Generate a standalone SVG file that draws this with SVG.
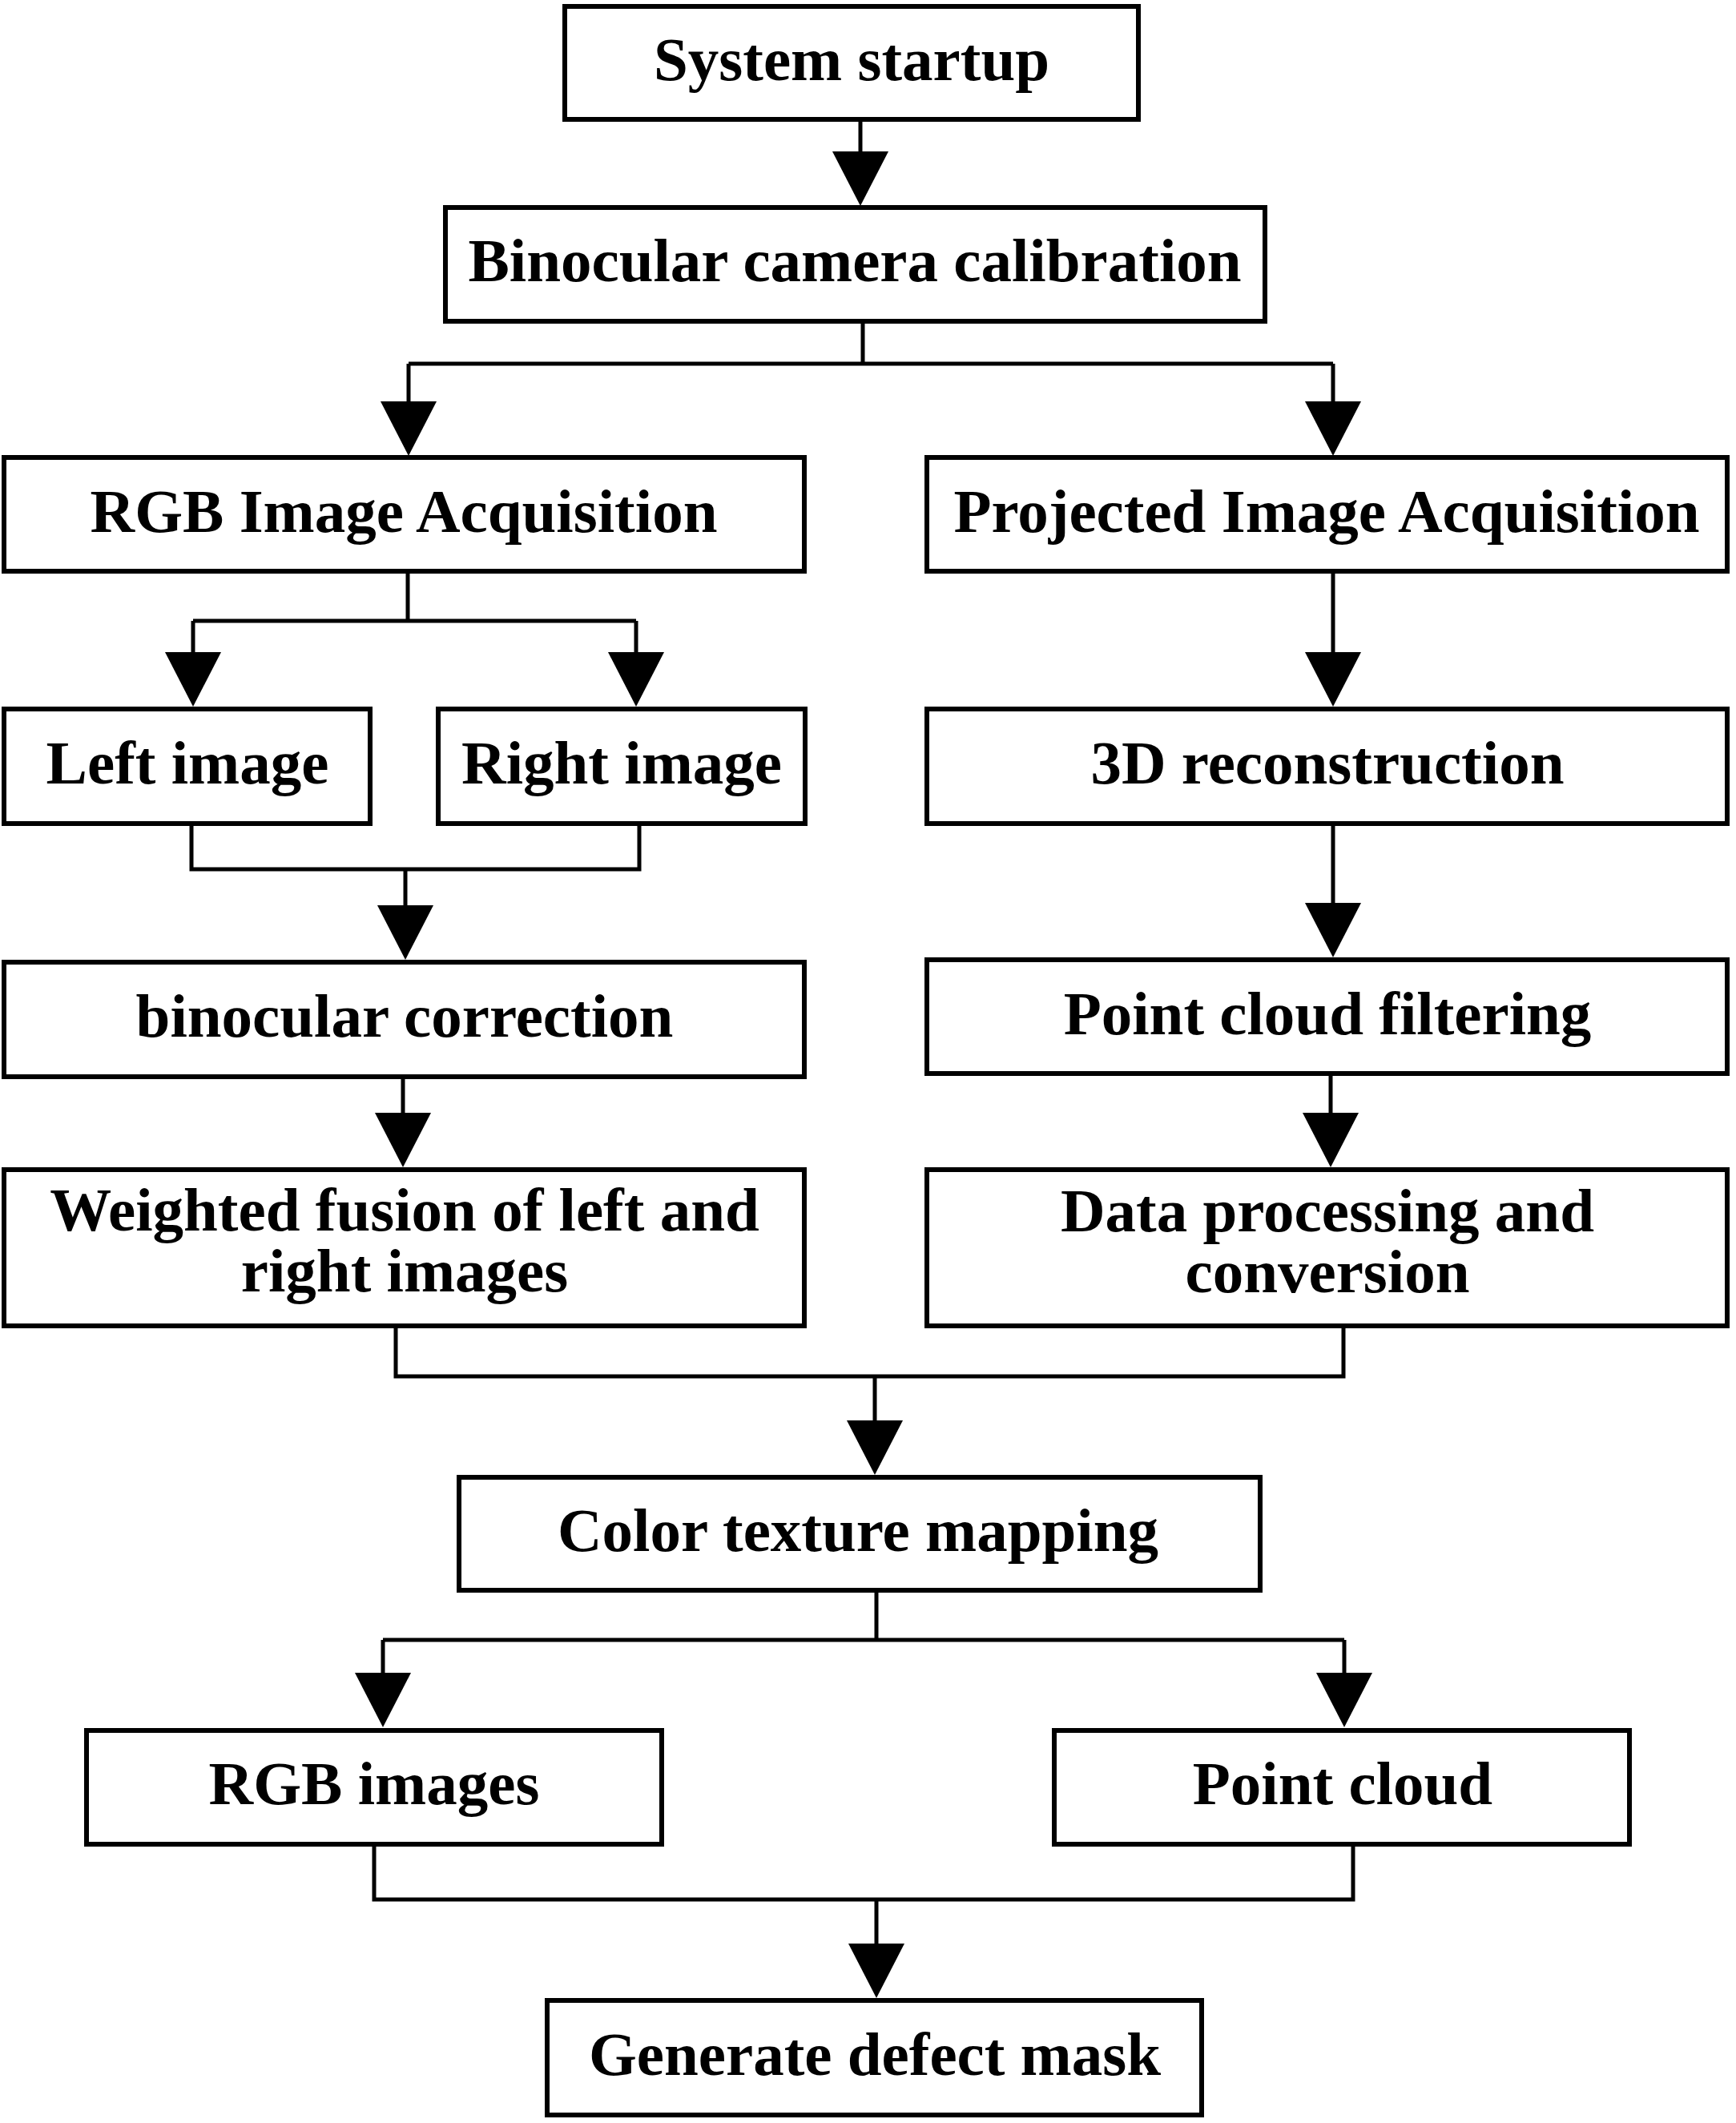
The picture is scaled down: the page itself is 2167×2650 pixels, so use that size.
<svg xmlns="http://www.w3.org/2000/svg" xmlns:xlink="http://www.w3.org/1999/xlink" width="2167" height="2650" viewBox="0 0 2167 2650">
<style>
.box{fill:#fff;stroke:#000;stroke-width:6}
.lbl{font-family:"Liberation Serif","Times New Roman",serif;font-weight:bold;font-size:77px;fill:#000;text-anchor:middle}
.ln{fill:none;stroke:#000;stroke-width:5}
</style>
<defs>
<path id="ah" d="M-35,-68 L35,-68 L0,0 Z" fill="#000"/>
</defs>
<rect width="2167" height="2650" fill="#fff"/>
<g id="connectors">
<path class="ln" d="M1074,152 V200"/>
<use xlink:href="#ah" x="1074" y="257"/>
<path class="ln" d="M1077,404 V454 M510,454 H1664 M510,454 V510 M1664,454 V510"/>
<use xlink:href="#ah" x="510" y="569"/>
<use xlink:href="#ah" x="1664" y="569"/>
<path class="ln" d="M509,716 V775 M241,775 H794 M241,775 V822 M794,775 V822"/>
<use xlink:href="#ah" x="241" y="882"/>
<use xlink:href="#ah" x="794" y="882"/>
<path class="ln" d="M1664,716 V822"/>
<use xlink:href="#ah" x="1664" y="882"/>
<path class="ln" d="M239,1031 V1085 H798 V1031 M506,1085 V1138"/>
<use xlink:href="#ah" x="506" y="1198"/>
<path class="ln" d="M1664,1031 V1136"/>
<use xlink:href="#ah" x="1664" y="1195"/>
<path class="ln" d="M503,1347 V1398"/>
<use xlink:href="#ah" x="503" y="1457"/>
<path class="ln" d="M1661,1343 V1398"/>
<use xlink:href="#ah" x="1661" y="1457"/>
<path class="ln" d="M494,1658 V1718 H1677 V1658 M1092,1718 V1780"/>
<use xlink:href="#ah" x="1092" y="1841"/>
<path class="ln" d="M1094,1988 V2047 M478,2047 H1678 M478,2047 V2095 M1678,2047 V2095"/>
<use xlink:href="#ah" x="478" y="2156"/>
<use xlink:href="#ah" x="1678" y="2156"/>
<path class="ln" d="M467,2305 V2371 H1689 V2305 M1094,2371 V2435"/>
<use xlink:href="#ah" x="1094" y="2494"/>
</g>
<g id="n1"><rect class="box" x="705" y="8" width="716" height="141"/><text class="lbl" x="1063" y="100">System startup</text></g>
<g id="n2"><rect class="box" x="556" y="259" width="1023" height="142"/><text class="lbl" x="1067" y="351">Binocular camera calibration</text></g>
<g id="n3"><rect class="box" x="5" y="571" width="999" height="142"/><text class="lbl" x="504" y="664">RGB Image Acquisition</text></g>
<g id="n4"><rect class="box" x="1157" y="571" width="999" height="142"/><text class="lbl" x="1656" y="664">Projected Image Acquisition</text></g>
<g id="n5"><rect class="box" x="5" y="885" width="457" height="143"/><text class="lbl" x="234" y="978">Left image</text></g>
<g id="n6"><rect class="box" x="547" y="885" width="458" height="143"/><text class="lbl" x="776" y="978">Right image</text></g>
<g id="n7"><rect class="box" x="1157" y="885" width="999" height="143"/><text class="lbl" x="1657" y="978">3D reconstruction</text></g>
<g id="n8"><rect class="box" x="5" y="1201" width="999" height="143"/><text class="lbl" x="505" y="1294">binocular correction</text></g>
<g id="n9"><rect class="box" x="1157" y="1198" width="999" height="142"/><text class="lbl" x="1657" y="1291">Point cloud filtering</text></g>
<g id="n10"><rect class="box" x="5" y="1460" width="999" height="195"/><text class="lbl" x="505" y="1536">Weighted fusion of left and</text><text class="lbl" x="505" y="1612">right images</text></g>
<g id="n11"><rect class="box" x="1157" y="1460" width="999" height="195"/><text class="lbl" x="1657" y="1537">Data processing and</text><text class="lbl" x="1657" y="1613">conversion</text></g>
<g id="n12"><rect class="box" x="573" y="1844" width="1000" height="141"/><text class="lbl" x="1071" y="1936">Color texture mapping</text></g>
<g id="n13"><rect class="box" x="108" y="2160" width="718" height="142"/><text class="lbl" x="467" y="2252">RGB images</text></g>
<g id="n14"><rect class="box" x="1316" y="2160" width="718" height="142"/><text class="lbl" x="1676" y="2252">Point cloud</text></g>
<g id="n15"><rect class="box" x="683" y="2497" width="817" height="143"/><text class="lbl" x="1092" y="2590">Generate defect mask</text></g>
</svg>
